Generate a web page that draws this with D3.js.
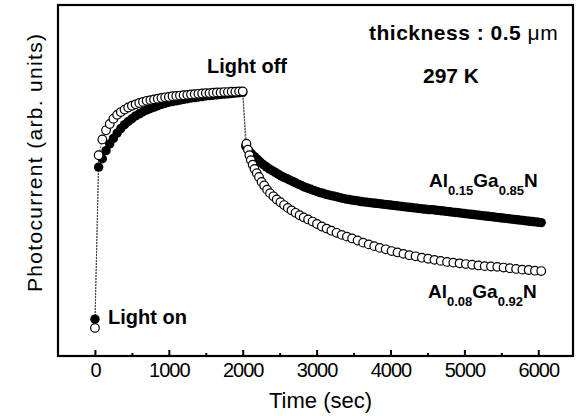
<!DOCTYPE html>
<html>
<head>
<meta charset="utf-8">
<script src="https://cdn.jsdelivr.net/npm/d3@7"></script>
<style>
    body { margin: 0; background: #fff; }
    text { font-family: "Liberation Sans", Arial, Helvetica, sans-serif; fill: #000; }
</style>
</head>
<body>
<div id="chart"></div>
<script>

// x axis ticks
var majorTicks = [0, 1000, 2000, 3000, 4000, 5000, 6000];
var tickLabels = ["0", "1000", "2000", "3000", "4000", "5000", "6000"];
var minorTicks = [500, 1500, 2500, 3500, 4500, 5500];

// Al0.15Ga0.85N (filled circles)
var filledTime = [
    0, 50, 100, 150, 200, 250, 300, 350, 400, 450, 500, 550, 600, 650, 700, 750, 800, 850, 900, 950,
    1000, 1050, 1100, 1150, 1200, 1250, 1300, 1350, 1400, 1450, 1500, 1550, 1600, 1650, 1700, 1750,
    1800, 1850, 1900, 1950, 2000,
    2040, 2080, 2120, 2160, 2200, 2240, 2280, 2320, 2360, 2400, 2440, 2480, 2520, 2560, 2600, 2640,
    2680, 2720, 2760, 2800, 2840, 2880, 2920, 2960, 3000, 3040, 3080, 3120, 3160, 3200, 3240, 3280,
    3320, 3360, 3400, 3440, 3480, 3520, 3560, 3600, 3640, 3680, 3720, 3760, 3800, 3840, 3880, 3920,
    3960, 4000, 4040, 4080, 4120, 4160, 4200, 4240, 4280, 4320, 4360, 4400, 4440, 4480, 4520, 4560,
    4600, 4640, 4680, 4720, 4760, 4800, 4840, 4880, 4920, 4960, 5000, 5040, 5080, 5120, 5160, 5200,
    5240, 5280, 5320, 5360, 5400, 5440, 5480, 5520, 5560, 5600, 5640, 5680, 5720, 5760, 5800, 5840,
    5880, 5920, 5960, 6000, 6040
];
var filledValue = [
    1.05, 5.38, 5.62, 5.85, 6.04, 6.20, 6.35, 6.48, 6.59, 6.68, 6.76, 6.84, 6.90, 6.96, 7.01, 7.05, 7.09, 7.13, 7.17, 7.20,
    7.23, 7.25, 7.27, 7.29, 7.31, 7.33, 7.35, 7.36, 7.38, 7.39, 7.41, 7.42, 7.43, 7.44, 7.45, 7.46,
    7.47, 7.48, 7.49, 7.50, 7.51,
    5.98, 5.86, 5.76, 5.68, 5.60, 5.52, 5.45, 5.39, 5.33, 5.28, 5.23, 5.18, 5.13, 5.09, 5.05, 5.01,
    4.97, 4.93, 4.89, 4.85, 4.81, 4.78, 4.75, 4.72, 4.69, 4.66, 4.64, 4.61, 4.59, 4.57, 4.55, 4.53,
    4.51, 4.49, 4.47, 4.46, 4.44, 4.43, 4.42, 4.40, 4.39, 4.38, 4.37, 4.36, 4.35, 4.34, 4.33, 4.32,
    4.31, 4.30, 4.29, 4.28, 4.27, 4.26, 4.25, 4.24, 4.23, 4.22, 4.21, 4.20, 4.19, 4.18, 4.17, 4.17,
    4.16, 4.15, 4.14, 4.13, 4.12, 4.11, 4.10, 4.09, 4.08, 4.07, 4.06, 4.05, 4.04, 4.03, 4.02, 4.01,
    4.00, 3.99, 3.98, 3.97, 3.96, 3.95, 3.94, 3.93, 3.92, 3.91, 3.90, 3.89, 3.88, 3.87, 3.86, 3.85,
    3.84, 3.83, 3.82, 3.81, 3.80
];

// Al0.08Ga0.92N (open circles)
var openTime = [
    0, 50, 100, 150, 200, 250, 300, 350, 400, 450, 500, 550, 600, 650, 700, 750, 800, 850, 900, 950,
    1000, 1050, 1100, 1150, 1200, 1250, 1300, 1350, 1400, 1450, 1500, 1550, 1600, 1650, 1700, 1750,
    1800, 1850, 1900, 1950, 2000,
    2050, 2070, 2090, 2110, 2135, 2160, 2190, 2220, 2255, 2290, 2330, 2370, 2415, 2460, 2510, 2560,
    2610, 2660, 2715, 2770, 2825, 2885, 2945, 3005, 3070, 3135, 3200, 3270, 3340, 3410, 3480, 3555,
    3630, 3705, 3780, 3855, 3935, 4015, 4095, 4175, 4255, 4340, 4425, 4510, 4595, 4680, 4765, 4850,
    4935, 5020, 5105, 5190, 5275, 5360, 5445, 5530, 5615, 5700, 5785, 5870, 5955, 6040
];
var openValue = [
    0.80, 5.72, 6.17, 6.43, 6.61, 6.76, 6.87, 6.95, 7.02, 7.08, 7.13, 7.17, 7.21, 7.24, 7.27, 7.29, 7.31, 7.33, 7.35, 7.37,
    7.38, 7.40, 7.41, 7.42, 7.43, 7.44, 7.45, 7.46, 7.47, 7.48, 7.49, 7.49, 7.50, 7.51, 7.51, 7.52,
    7.52, 7.53, 7.53, 7.54, 7.54,
    6.05, 5.88, 5.72, 5.58, 5.45, 5.33, 5.21, 5.10, 4.96, 4.86, 4.74, 4.64, 4.55, 4.46, 4.38, 4.30,
    4.22, 4.15, 4.08, 4.01, 3.95, 3.89, 3.83, 3.76, 3.69, 3.63, 3.57, 3.51, 3.45, 3.40, 3.35, 3.29,
    3.23, 3.18, 3.13, 3.08, 3.04, 2.99, 2.95, 2.91, 2.87, 2.84, 2.80, 2.77, 2.74, 2.71, 2.68, 2.66,
    2.64, 2.62, 2.60, 2.58, 2.56, 2.55, 2.54, 2.52, 2.50, 2.48, 2.46, 2.45, 2.43, 2.42
];

var width = 577;
var height = 416;

// plot frame in page pixels
var frame = { left: 58, right: 573, top: 5, bottom: 356 };

var x_scale = d3.scaleLinear()
    .domain([-500, 6470])
    .range([frame.left, frame.right]);

var y_scale = d3.scaleLinear()
    .domain([0, 10])
    .range([frame.bottom, frame.top]);

var svg = d3.select("#chart")
    .append("svg")
    .attr("width", width)
    .attr("height", height);

function pairs(times, values) {
    return times.map(function(t, i) {
        return { t: t, v: values[i] };
    });
}

var filled = pairs(filledTime, filledValue);
var open = pairs(openTime, openValue);

// thin connecting lines behind the symbols
var line = d3.line()
    .x(function(d) { return x_scale(d.t); })
    .y(function(d) { return y_scale(d.v); });

[filled, open].forEach(function(series) {
    svg.append("path")
        .datum(series)
        .attr("fill", "none")
        .attr("stroke", "#333")
        .attr("stroke-width", 0.8)
        .attr("stroke-dasharray", "2,1")
        .attr("d", line);
});

svg.append("g")
    .selectAll("circle")
    .data(filled)
    .enter()
    .append("circle")
    .attr("cx", function(d) { return x_scale(d.t); })
    .attr("cy", function(d) { return y_scale(d.v); })
    .attr("r", 4.7)
    .attr("fill", "#000");

svg.append("g")
    .selectAll("circle")
    .data(open)
    .enter()
    .append("circle")
    .attr("cx", function(d) { return x_scale(d.t); })
    .attr("cy", function(d) { return y_scale(d.v); })
    .attr("r", 4.3)
    .attr("fill", "#fff")
    .attr("stroke", "#000")
    .attr("stroke-width", 1.2);

// bottom axis, ticks pointing inward
var xAxis = svg.append("g")
    .attr("transform", "translate(0," + frame.bottom + ")")
    .call(d3.axisBottom(x_scale)
        .tickValues(majorTicks)
        .tickSize(-6)
        .tickFormat(function(d, i) { return tickLabels[i]; }));

xAxis.select(".domain").remove();
xAxis.selectAll(".tick line").attr("stroke", "#000").attr("stroke-width", 2);
xAxis.selectAll(".tick text")
    .attr("y", 21)
    .attr("dy", null)
    .attr("font-size", 20)
    .attr("letter-spacing", -1)
    .attr("fill", "#000")
    .style("font-family", "'Liberation Sans', Arial, sans-serif");

svg.append("g")
    .attr("transform", "translate(0," + frame.bottom + ")")
    .call(d3.axisBottom(x_scale)
        .tickValues(minorTicks)
        .tickSize(-3)
        .tickFormat(""))
    .call(function(g) { g.select(".domain").remove(); })
    .selectAll(".tick line")
    .attr("stroke", "#000")
    .attr("stroke-width", 2);

// frame
svg.append("rect")
    .attr("x", frame.left)
    .attr("y", frame.top)
    .attr("width", frame.right - frame.left)
    .attr("height", frame.bottom - frame.top)
    .attr("fill", "none")
    .attr("stroke", "#000")
    .attr("stroke-width", 2.2);

// axis labels
svg.append("text")
    .attr("x", (frame.left + frame.right) / 2 + 5)
    .attr("y", 408)
    .attr("text-anchor", "middle")
    .attr("font-size", 22)
    .text("Time (sec)");

svg.append("text")
    .attr("transform", "translate(42,163)rotate(-90)")
    .attr("text-anchor", "middle")
    .attr("font-size", 21)
    .attr("textLength", 258)
    .attr("lengthAdjust", "spacing")
    .text("Photocurrent (arb. units)");

// annotations
function bold(x, y, size, str) {
    return svg.append("text")
        .attr("x", x)
        .attr("y", y)
        .attr("font-size", size)
        .attr("font-weight", "bold")
        .text(str);
}

bold(108, 324, 20, "Light on");
bold(207, 73, 20, "Light off");
bold(423, 83, 21, "297 K");

var thick = svg.append("text")
    .attr("x", 369)
    .attr("y", 40)
    .attr("font-size", 21)
    .attr("letter-spacing", 0.5);
thick.append("tspan").attr("font-weight", "bold").text("thickness : 0.5 ");
thick.append("tspan").text("\u03bcm");

// compound labels with subscripts
function compound(x, y, parts) {
    var t = svg.append("text")
        .attr("x", x)
        .attr("y", y)
        .attr("font-weight", "bold");
    parts.forEach(function(p, i) {
        var sub = i % 2 === 1;
        t.append("tspan")
            .attr("font-size", sub ? 13 : 19)
            .attr("dy", sub ? 8 : (i > 0 ? -8 : 0))
            .text(p);
    });
}

compound(429, 187, ["Al", "0.15", "Ga", "0.85", "N"]);
compound(428, 298, ["Al", "0.08", "Ga", "0.92", "N"]);

</script>
</body>
</html>
